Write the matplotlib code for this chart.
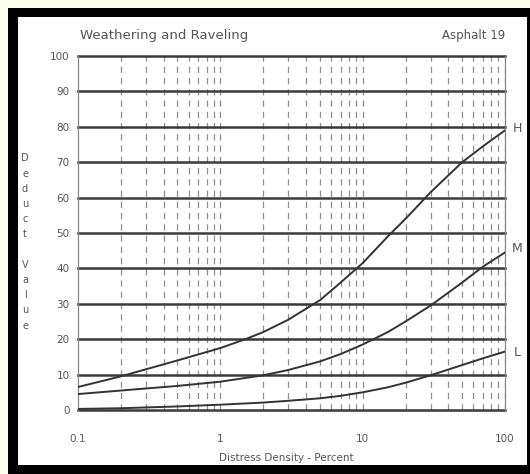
import matplotlib
matplotlib.use("Agg")
import matplotlib.pyplot as plt
from matplotlib.patches import Rectangle

# Curve values (distress density %, deduct value)
h_density = [0.1, 0.2, 0.3, 0.5, 1, 1.5, 2, 3, 5, 7, 10, 15, 20, 30, 50, 70, 100]
h_deduct = [6.5, 9.5, 11.5, 14, 17.5, 20, 22, 25.5, 31, 36, 41.5, 49, 54, 61.5, 70, 74.5, 79]

m_density = [0.1, 0.2, 0.5, 1, 2, 3, 5, 7, 10, 15, 20, 30, 50, 70, 100]
m_deduct = [4.5, 5.5, 6.8, 8, 9.8, 11.3, 13.7, 15.8, 18.5, 22, 25, 29.5, 36, 40.5, 44.5]

l_density = [0.1, 0.2, 0.5, 1, 2, 3, 5, 7, 10, 15, 20, 30, 50, 70, 100]
l_deduct = [0.3, 0.5, 1.0, 1.5, 2.1, 2.6, 3.3, 4, 5, 6.4, 7.7, 9.8, 12.7, 14.6, 16.5]

y_ticks = [0, 10, 20, 30, 40, 50, 60, 70, 80, 90, 100]
x_ticks = [0.1, 1, 10, 100]
x_tick_labels = ["0.1", "1", "10", "100"]
minor_lines = [m * d for d in (0.1, 1, 10) for m in range(2, 11)]

W, H = 530, 474
fig = plt.figure(figsize=(W / 100, H / 100), dpi=100, facecolor="#fcfcef")

# white sheet and thick black frame of the scan
fig.patches.append(Rectangle((18 / W, 9 / H), 509 / W, 448 / H, transform=fig.transFigure,
                             facecolor="white", edgecolor="none", zorder=0))
for x0, y0, w, h in [(8, 0, 10, 466), (8, 457, 522, 9), (8, 0, 522, 9), (527, 0, 3, 466)]:
    fig.patches.append(Rectangle((x0 / W, y0 / H), w / W, h / H, transform=fig.transFigure,
                                 facecolor="black", edgecolor="none", zorder=1))

ax = fig.add_axes([78 / W, 64 / H, 427 / W, 354 / H])
ax.set_zorder(5)
ax.set_facecolor("white")
ax.set_xscale("log")
ax.set_xlim(0.1, 100)
ax.set_ylim(0, 100)

# dashed vertical rulings at every log division
for xv in minor_lines:
    ax.axvline(xv, color="#8f8f8f", lw=0.9, ls=(0, (5, 4)), zorder=1)
# heavy horizontal rulings
for yv in y_ticks:
    ax.axhline(yv, color="#3a3a3a", lw=1.8, zorder=2, clip_on=False)

for xs, ys in [(h_density, h_deduct), (m_density, m_deduct), (l_density, l_deduct)]:
    ax.plot(xs, ys, color="#333333", lw=1.4, zorder=3)

for s in ["top", "bottom"]:
    ax.spines[s].set_visible(False)
for s in ["left", "right"]:
    ax.spines[s].set_color("#888888")
    ax.spines[s].set_linewidth(0.9)

ax.set_yticks(y_ticks)
ax.set_yticklabels([str(v) for v in y_ticks])
ax.set_xticks(x_ticks)
ax.set_xticklabels(x_tick_labels)
ax.xaxis.set_minor_locator(matplotlib.ticker.NullLocator())
ax.tick_params(axis="y", length=0, pad=6, labelsize=7.5, labelcolor="#555555")
ax.tick_params(axis="x", length=0, pad=17, labelsize=7.5, labelcolor="#555555")

txt = dict(color="#555555", transform=fig.transFigure, zorder=6)
fig.text(80 / W, 1 - 35 / H, "Weathering and Raveling", ha="left", va="center", fontsize=9.5, **txt)
fig.text(505 / W, 1 - 35 / H, "Asphalt 19", ha="right", va="center", fontsize=8.5, **txt)
fig.text(286 / W, 1 - 458 / H, "Distress Density - Percent", ha="center", va="center", fontsize=7.5, **txt)
fig.text(25 / W, 1 - 242 / H, "\n".join("Deduct Value"), ha="center", va="center",
         fontsize=7, linespacing=1.65, **txt)
for lab, yp in [("H", 128), ("M", 248), ("L", 352)]:
    fig.text(517 / W, 1 - yp / H, lab, ha="center", va="center", fontsize=9, **txt)

fig.savefig("out.png", dpi=100, facecolor=fig.get_facecolor())
